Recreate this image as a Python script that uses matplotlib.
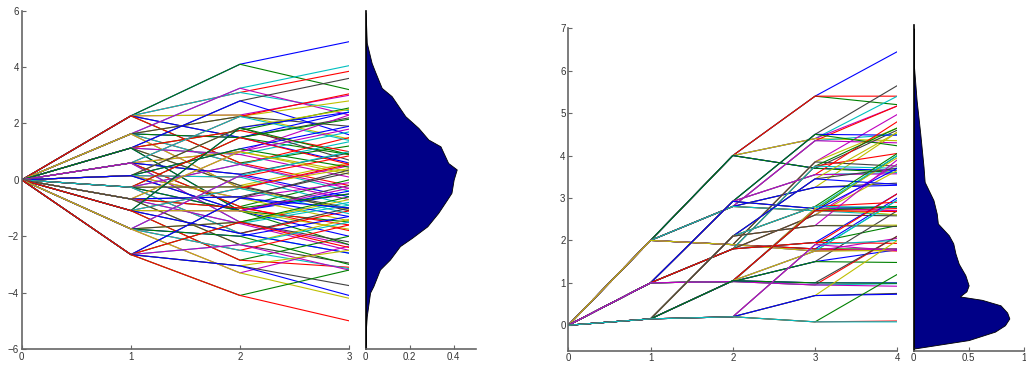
import numpy as np
import matplotlib.pyplot as plt

plt.rcParams["font.family"] = ["Liberation Sans", "DejaVu Sans"]
plt.rcParams["font.size"] = 7

# matlab's old colour order
colors = [(0, 0, 1), (0, 0.5, 0), (1, 0, 0), (0, 0.75, 0.75),
          (0.75, 0, 0.75), (0.75, 0.75, 0), (0.25, 0.25, 0.25)]

# left scenario tree: (t1 value, [(t2 value, [t3 values]), ...])
left_tree = [
    (2.27, [(4.1, [4.9, 3.2]), (3.1, [3.85, 2.45]), (2.3, [3.0, 1.45]),
            (1.5, [2.2, 0.6]), (0.6, [1.2, -0.2])]),
    (1.63, [(3.25, [4.05, 2.3]), (2.25, [2.8, 1.9]), (1.5, [2.4, 0.9]),
            (0.55, [1.5, -0.4]), (-0.3, [0.5, -1.05])]),
    (1.13, [(2.8, [3.6, 1.6]), (1.75, [2.55, 1.0]), (0.9, [1.7, 0.1]),
            (-0.2, [0.6, -1.1]), (-1.1, [-0.5, -1.5])]),
    (0.6, [(2.25, [3.05, 1.4]), (1.0, [2.3, 0.3]), (0.2, [0.95, -0.6]),
           (-0.95, [0.0, -1.8]), (-1.5, [-0.8, -2.3])]),
    (0.15, [(1.85, [2.5, 0.7]), (1.1, [1.9, 0.45]), (0.1, [0.85, -0.9]),
            (-0.65, [-0.1, -1.45]), (-1.1, [-0.2, -2.0])]),
    (-0.26, [(1.5, [2.15, 0.55]), (0.55, [1.35, -0.3]), (-0.25, [0.4, -1.0]),
             (-1.1, [-0.4, -2.3]), (-1.9, [-1.1, -2.6])]),
    (-0.68, [(1.0, [1.8, 0.2]), (-0.6, [0.25, -1.3]), (-1.0, [-0.5, -1.6]),
             (-1.55, [-0.9, -2.5]), (-2.3, [-1.4, -2.95])]),
    (-1.09, [(1.85, [2.4, 0.9]), (-0.3, [0.55, -1.2]), (-1.1, [-0.3, -1.75]),
             (-1.9, [-1.0, -2.6]), (-2.85, [-2.0, -3.1])]),
    (-1.74, [(0.15, [1.0, -0.7]), (-1.5, [-0.7, -2.2]), (-2.0, [-1.3, -3.0]),
             (-2.5, [-1.6, -3.15]), (-3.3, [-2.35, -4.2])]),
    (-2.65, [(-0.65, [0.35, -1.0]), (-1.5, [-0.6, -2.4]), (-2.3, [-1.5, -3.2]),
             (-3.05, [-2.5, -3.75, -4.1]), (-4.1, [-3.2, -5.0])]),
]

# right scenario tree (ternary, 4 stages)
right_tree = [
    (2.0, [(4.0, [(5.4, [6.45, 5.2, 5.4]), (4.4, [5.4, 5.17, 4.35]), (3.7, [4.6, 3.65, 3.6])]),
           (2.8, [(4.35, [5.17, 4.5, 4.3]), (3.25, [4.55, 3.35, 3.3]), (2.7, [4.0, 2.75, 2.6])]),
           (1.9, [(3.85, [4.97, 4.65, 3.75]), (1.8, [3.0, 1.8, 1.75]), (1.75, [2.95, 2.05, 1.78])])]),
    (1.0, [(2.92, [(4.5, [5.65, 4.48, 4.23]), (3.55, [4.8, 3.6, 3.57]), (2.75, [3.95, 2.8, 2.78])]),
           (1.8, [(3.75, [4.65, 4.05, 3.7]), (2.6, [3.8, 3.65, 2.58]), (1.95, [3.1, 2.35, 1.93])]),
           (1.03, [(2.75, [4.0, 2.7, 2.6]), (1.5, [2.7, 1.78, 1.48]), (0.95, [2.1, 0.98, 0.92])])]),
    (0.15, [(2.1, [(3.45, [4.55, 3.7, 3.32]), (2.8, [4.05, 2.9, 2.78]), (2.35, [3.9, 2.36, 2.33])]),
            (1.05, [(2.7, [3.7, 2.8, 2.68]), (1.75, [2.95, 1.8, 1.76]), (1.0, [2.1, 1.0, 0.99])]),
            (0.2, [(1.9, [3.1, 2.0, 1.76]), (0.7, [2.0, 0.75, 0.73]), (0.08, [1.2, 0.1, 0.08])])]),
]

# densities
left_dens_y = [-6.0, -5.43, -4.84, -4.0, -3.77, -3.18, -2.83, -2.35, -2.06, -1.65, -1.17,
               -0.70, -0.46, 0.01, 0.37, 0.6, 1.19, 1.43, 1.84, 2.26, 2.97, 3.26, 3.85,
               4.15, 4.86, 5.92]
left_dens_x = [0.0, 0.0, 0.005, 0.02, 0.035, 0.065, 0.11, 0.156, 0.21, 0.28, 0.33,
               0.37, 0.39, 0.40, 0.414, 0.375, 0.34, 0.285, 0.24, 0.18, 0.118, 0.073,
               0.042, 0.027, 0.005, 0.0]

right_dens_y = [-0.55, -0.35, -0.15, 0.0, 0.16, 0.3, 0.47, 0.6, 0.68, 0.8, 0.94, 1.18,
                1.45, 1.69, 1.93, 2.12, 2.4, 2.63, 2.95, 3.38, 3.73, 4.52, 5.3, 6.1, 7.0]
right_dens_x = [0.0, 0.5, 0.74, 0.83, 0.87, 0.85, 0.79, 0.62, 0.42, 0.48, 0.50, 0.47,
                0.41, 0.38, 0.36, 0.32, 0.22, 0.21, 0.18, 0.10, 0.09, 0.06, 0.027, 0.003, 0.0]


def flatten(tree, prefix):
    paths = []
    for item in tree:
        if isinstance(item, tuple):
            val, kids = item
            paths += flatten(kids, prefix + [val])
        else:
            paths.append(prefix + [item])
    return paths


def style(ax, xticks, yticks, gray=True):
    for s in ["top", "right"]:
        ax.spines[s].set_visible(False)
    c = (0.4, 0.4, 0.4) if gray else "k"
    ax.spines["left"].set_color(c)
    ax.spines["bottom"].set_color((0.4, 0.4, 0.4))
    ax.spines["left"].set_linewidth(1.2)
    ax.spines["bottom"].set_linewidth(1.2)
    ax.tick_params(direction="in", length=3, width=0.8, colors=(0.4, 0.4, 0.4),
                   labelcolor=(0.2, 0.2, 0.2), pad=2)
    ax.set_xticks(xticks)
    ax.set_yticks(yticks)


fig = plt.figure(figsize=(10.26, 3.66), dpi=100)

ax1 = fig.add_axes([0.0212, 0.0464, 0.319, 0.9244])
for i, p in enumerate(flatten(left_tree, [0.0])):
    ax1.plot(range(len(p)), p, color=colors[i % 7], lw=0.8)
ax1.set_xlim(0, 3)
ax1.set_ylim(-6, 6)
style(ax1, [0, 1, 2, 3], [-6, -4, -2, 0, 2, 4, 6])

ax2 = fig.add_axes([0.3564, 0.0464, 0.1072, 0.9244])
ax2.fill_betweenx(left_dens_y, 0, left_dens_x, facecolor=(0, 0, 0.53),
                  edgecolor="k", lw=0.6)
ax2.set_xlim(0, 0.5)
ax2.set_ylim(-6, 6)
style(ax2, [0, 0.2, 0.4], [], gray=False)
ax2.set_xticklabels(["0", "0.2", "0.4"])

ax3 = fig.add_axes([0.5539, 0.0418, 0.3207, 0.8809])
for i, p in enumerate(flatten(right_tree, [0.0])):
    ax3.plot(range(len(p)), p, color=colors[i % 7], lw=0.8)
ax3.set_xlim(0, 4)
ax3.set_ylim(-0.6, 7)
style(ax3, [0, 1, 2, 3, 4], range(8))

ax4 = fig.add_axes([0.8905, 0.0418, 0.1072, 0.89])
ax4.fill_betweenx(right_dens_y, 0, right_dens_x, facecolor=(0, 0, 0.53),
                  edgecolor="k", lw=0.6)
ax4.set_xlim(0, 1)
ax4.set_ylim(-0.6, 7.08)
style(ax4, [0, 0.5, 1], [], gray=False)
ax4.set_xticklabels(["0", "0.5", "1"])

fig.savefig("out.png", dpi=100)
